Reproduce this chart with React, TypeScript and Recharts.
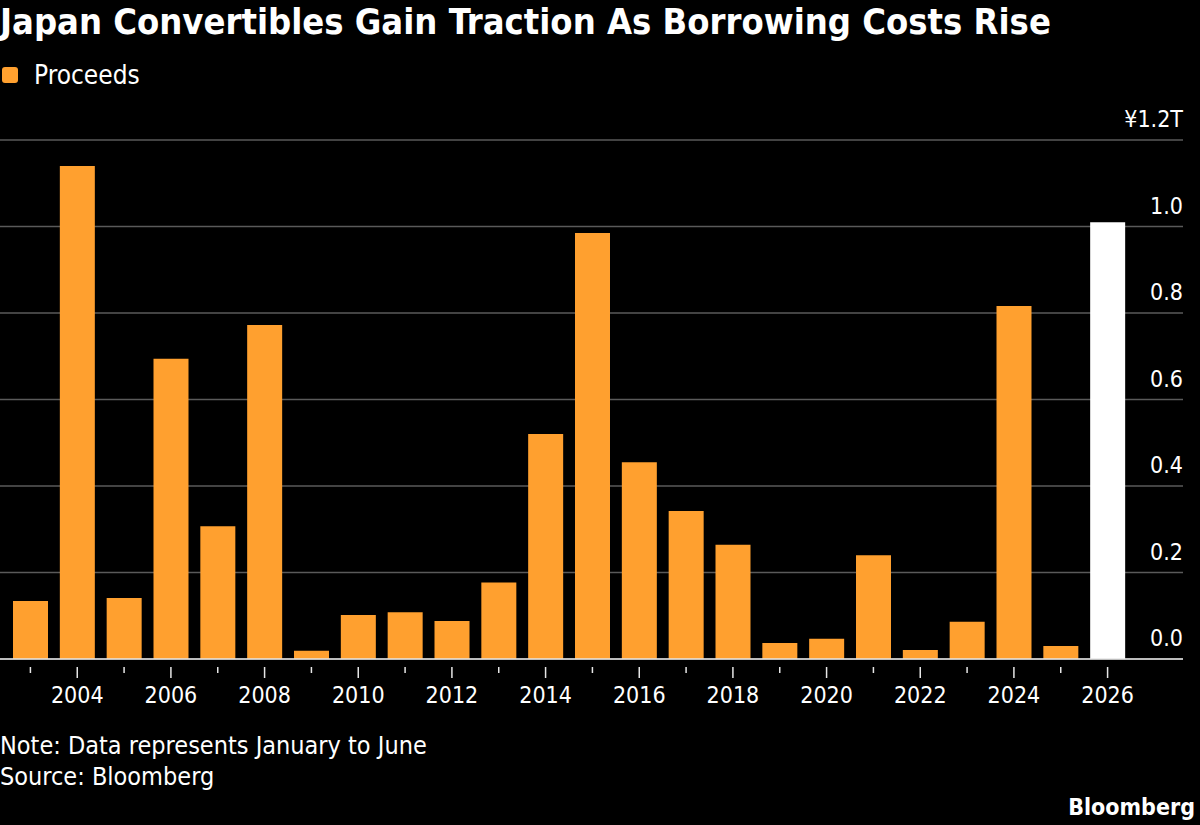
import React from "react";
import { BarChart, Bar, XAxis, YAxis, CartesianGrid, Cell } from "recharts";

const years = [2003, 2004, 2005, 2006, 2007, 2008, 2009, 2010, 2011, 2012, 2013, 2014, 2015, 2016, 2017, 2018, 2019, 2020, 2021, 2022, 2023, 2024, 2025, 2026];
const proceeds = [0.134, 1.14, 0.141, 0.694, 0.307, 0.772, 0.019, 0.102, 0.108, 0.088, 0.177, 0.52, 0.985, 0.455, 0.342, 0.264, 0.037, 0.047, 0.24, 0.021, 0.086, 0.816, 0.03, 1.01];
const yTicks = [0, 0.2, 0.4, 0.6, 0.8, 1.0, 1.2];

const data = years.map((y, i) => ({ year: y, value: proceeds[i] }));

const FONT = "'DejaVu Sans Condensed', 'DejaVu Sans', sans-serif";
const ORANGE = "#FFA02F";

const XTick = (props: any) => {
  const { x, y, payload } = props;
  const yr = Number(payload.value);
  const labeled = yr % 2 === 0;
  return (
    <g>
      <line x1={x} x2={x} y1={y} y2={y + (labeled ? 11 : 6)} stroke="#e6e6e6" strokeWidth={1.5} />
      {labeled && (
        <text x={x} y={y + 36} textAnchor="middle" fill="#ffffff" fontSize={23} fontFamily={FONT}>
          {yr}
        </text>
      )}
    </g>
  );
};

const YTick = (props: any) => {
  const { y, payload } = props;
  const v = Number(payload.value);
  const label = v === 1.2 ? "¥1.2T" : v.toFixed(1);
  return (
    <text x={1183} y={y - 13} textAnchor="end" fill="#ffffff" fontSize={23} fontFamily={FONT}>
      {label}
    </text>
  );
};

export default function App() {
  return (
    <div style={{ position: "fixed", left: 0, top: 0, width: 1200, height: 825, background: "#000000", overflow: "hidden" }}>
      <svg width={1200} height={825} style={{ position: "absolute", left: 0, top: 0 }}>
        <text x={0} y={34} fill="#ffffff" fontSize={36} fontWeight="bold" fontFamily={FONT}>
          Japan Convertibles Gain Traction As Borrowing Costs Rise
        </text>
        <rect x={2} y={67} width={16} height={16} rx={3} fill={ORANGE} />
        <text x={34} y={84} fill="#ffffff" fontSize={26} fontFamily={FONT}>
          Proceeds
        </text>
        <text x={0} y={754} fill="#ffffff" fontSize={25} fontFamily={FONT}>
          Note: Data represents January to June
        </text>
        <text x={0} y={785} fill="#ffffff" fontSize={25} fontFamily={FONT}>
          Source: Bloomberg
        </text>
        <text x={1195} y={815} textAnchor="end" fill="#ffffff" fontSize={23} fontWeight="bold" fontFamily={FONT}>
          Bloomberg
        </text>
      </svg>
      <div style={{ position: "absolute", left: 0, top: 0 }}>
        <BarChart
          width={1200}
          height={720}
          data={data}
          margin={{ top: 140, right: 0, bottom: 11, left: 0 }}
          barSize={35}
        >
          <CartesianGrid horizontal={true} vertical={false} stroke="#5a5a5a" strokeWidth={1.5} />
          <XAxis
            dataKey="year"
            interval={0}
            height={50}
            padding={{ left: 7, right: 52 }}
            axisLine={{ stroke: "#e6e6e6", strokeWidth: 1.5 }}
            tickLine={false}
            tick={<XTick />}
          />
          <YAxis
            orientation="right"
            width={17}
            domain={[0, 1.2]}
            ticks={yTicks}
            interval={0}
            axisLine={false}
            tickLine={false}
            tick={<YTick />}
            allowDataOverflow={true}
          />
          <Bar dataKey="value" isAnimationActive={false}>
            {data.map((d) => (
              <Cell key={d.year} fill={d.year === 2026 ? "#ffffff" : ORANGE} />
            ))}
          </Bar>
        </BarChart>
      </div>
    </div>
  );
}
